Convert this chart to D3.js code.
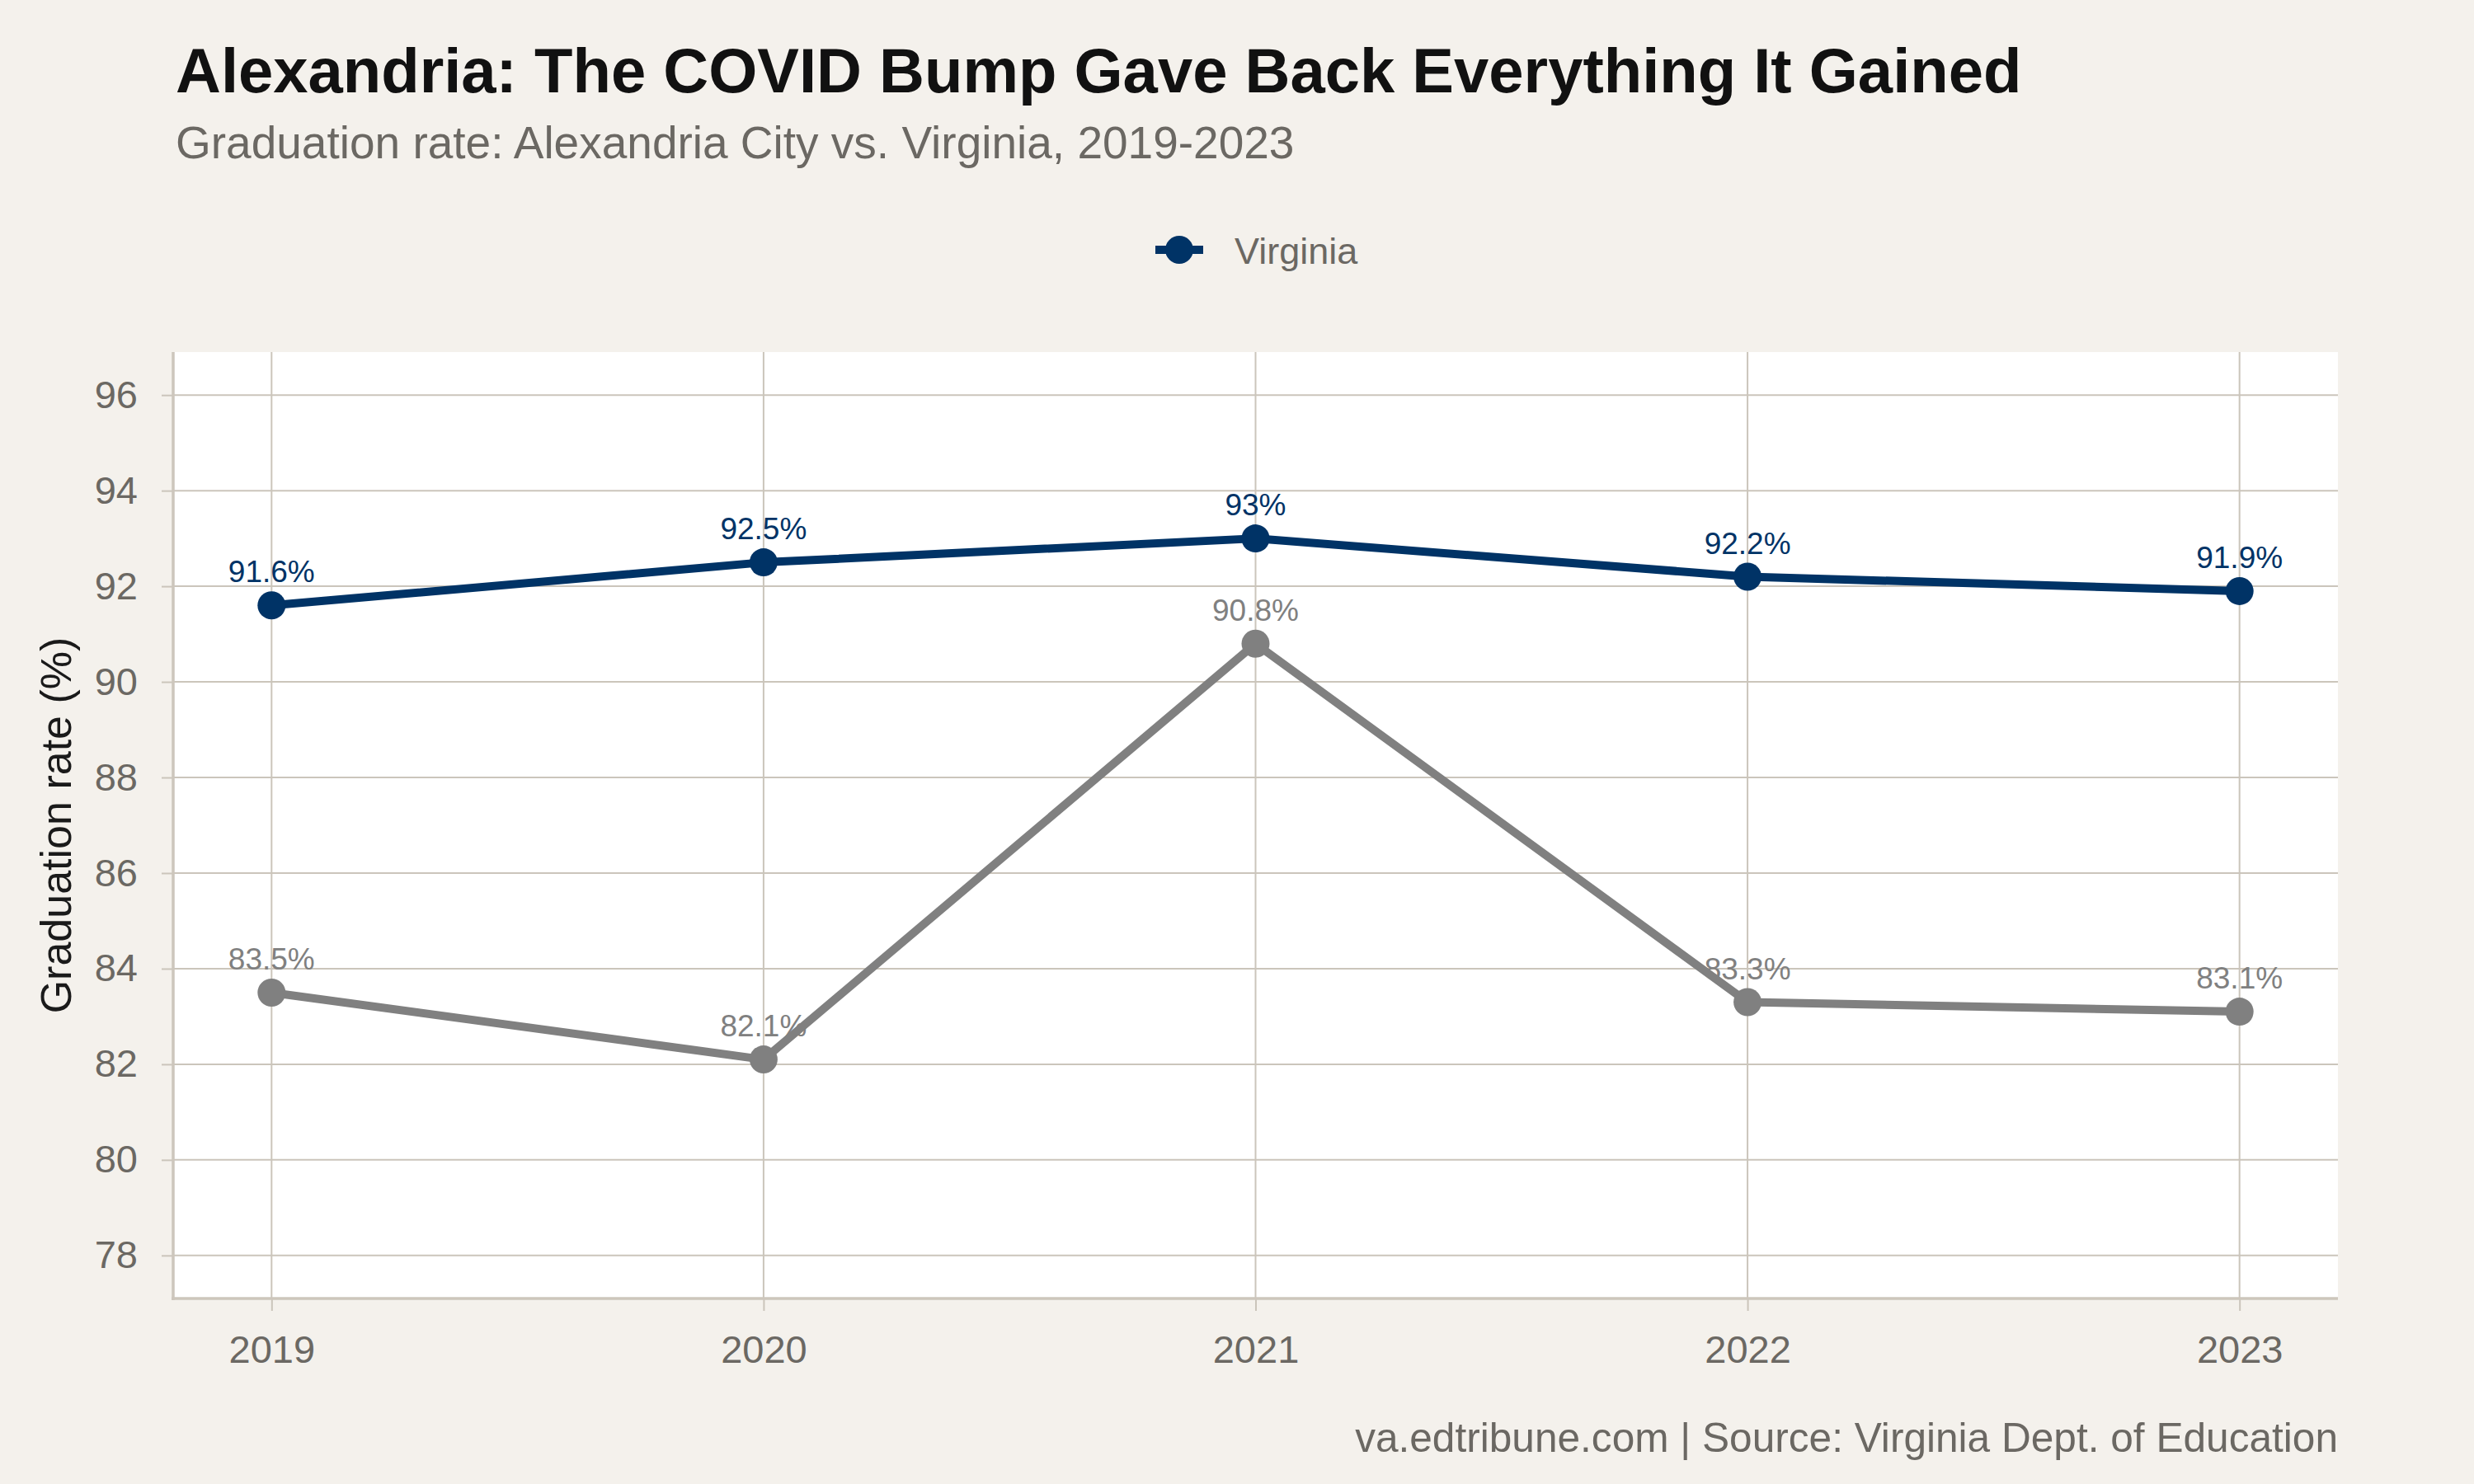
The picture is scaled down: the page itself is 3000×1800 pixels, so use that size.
<!DOCTYPE html>
<html>
<head>
<meta charset="utf-8">
<script src="https://cdn.jsdelivr.net/npm/d3@7"></script>
<style>
  html, body { margin: 0; padding: 0; background: #f4f1ec; }
  svg { display: block; font-family: "Liberation Sans", Arial, Helvetica, sans-serif; }
</style>
</head>
<body>
<div class="chart"></div>
<script>
// data
var years = [2019, 2020, 2021, 2022, 2023];
var virginiaRates = [91.6, 92.5, 93.0, 92.2, 91.9];
var alexandriaRates = [83.5, 82.1, 90.8, 83.3, 83.1];
var yTicks = [78, 80, 82, 84, 86, 88, 90, 92, 94, 96];
var legendLabels = ["Virginia"];

var titleText = "Alexandria: The COVID Bump Gave Back Everything It Gained";
var subtitleText = "Graduation rate: Alexandria City vs. Virginia, 2019-2023";
var captionText = "va.edtribune.com | Source: Virginia Dept. of Education";
var yTitle = "Graduation rate (%)";

var svgWidth = 3000;
var svgHeight = 1800;

var panel = { left: 210, right: 2835, top: 427, bottom: 1575 };

var navy = "#003366";
var grey = "#808080";
var gridColor = "#cbc5bb";
var axisColor = "#cdc6bc";
var textGrey = "#6b6863";

var svg = d3.select(".chart")
  .append("svg")
  .attr("width", svgWidth)
  .attr("height", svgHeight);

svg.append("rect")
  .attr("width", svgWidth)
  .attr("height", svgHeight)
  .attr("fill", "#f4f1ec");

// scales (ggplot-ish 5% expansion on limits)
var xScale = d3.scaleLinear()
  .domain([2018.8, 2023.2])
  .range([panel.left, panel.right]);

var yScale = d3.scaleLinear()
  .domain([77.1, 96.9])
  .range([panel.bottom, panel.top]);

// panel background
svg.append("rect")
  .attr("x", panel.left)
  .attr("y", panel.top)
  .attr("width", panel.right - panel.left)
  .attr("height", panel.bottom - panel.top)
  .attr("fill", "#ffffff");

// gridlines
var grid = svg.append("g");
grid.selectAll(".hgrid")
  .data(yTicks)
  .enter()
  .append("line")
  .attr("x1", panel.left)
  .attr("x2", panel.right)
  .attr("y1", d => yScale(d))
  .attr("y2", d => yScale(d))
  .attr("stroke", gridColor)
  .attr("stroke-width", 2);

grid.selectAll(".vgrid")
  .data(years)
  .enter()
  .append("line")
  .attr("x1", d => xScale(d))
  .attr("x2", d => xScale(d))
  .attr("y1", panel.top)
  .attr("y2", panel.bottom)
  .attr("stroke", gridColor)
  .attr("stroke-width", 2);

// axes
var xAxis = d3.axisBottom(xScale)
  .tickValues(years)
  .tickFormat(d3.format("d"))
  .tickSize(15)
  .tickSizeOuter(0)
  .tickPadding(30);

var yAxis = d3.axisLeft(yScale)
  .tickValues(yTicks)
  .tickSize(14)
  .tickSizeOuter(0)
  .tickPadding(29);

var xAxisG = svg.append("g")
  .attr("transform", `translate(0, ${panel.bottom})`)
  .call(xAxis);

var yAxisG = svg.append("g")
  .attr("transform", `translate(${panel.left}, 0)`)
  .call(yAxis);

[xAxisG, yAxisG].forEach(function(g) {
  g.select(".domain").remove();
  g.selectAll(".tick line")
    .attr("stroke", gridColor)
    .attr("stroke-width", 2);
  g.selectAll(".tick text")
    .attr("fill", textGrey)
    .attr("font-size", 47)
    .attr("font-family", "Liberation Sans, Arial, sans-serif");
});

// axis lines
svg.append("line")
  .attr("x1", panel.left)
  .attr("x2", panel.left)
  .attr("y1", panel.top)
  .attr("y2", panel.bottom + 2)
  .attr("stroke", axisColor)
  .attr("stroke-width", 3.5);

svg.append("line")
  .attr("x1", panel.left - 2)
  .attr("x2", panel.right)
  .attr("y1", panel.bottom)
  .attr("y2", panel.bottom)
  .attr("stroke", axisColor)
  .attr("stroke-width", 3.5);

// series
var series = [
  { name: "Alexandria City", values: alexandriaRates, color: grey },
  { name: "Virginia", values: virginiaRates, color: navy }
];

var line = d3.line()
  .x(d => xScale(d.year))
  .y(d => yScale(d.rate));

// value labels first, lines go over them like in the original
series.forEach(function(s) {
  var pts = years.map((yr, i) => ({ year: yr, rate: s.values[i] }));
  svg.append("g").selectAll("text")
    .data(pts)
    .enter()
    .append("text")
    .attr("x", d => xScale(d.year))
    .attr("y", d => yScale(d.rate) - 28)
    .attr("text-anchor", "middle")
    .attr("font-size", 37)
    .attr("fill", s.color)
    .text(d => d.rate + "%");
});

series.forEach(function(s) {
  var pts = years.map((yr, i) => ({ year: yr, rate: s.values[i] }));
  svg.append("path")
    .datum(pts)
    .attr("d", line)
    .attr("fill", "none")
    .attr("stroke", s.color)
    .attr("stroke-width", 10)
    .attr("stroke-linejoin", "round");

  svg.append("g").selectAll("circle")
    .data(pts)
    .enter()
    .append("circle")
    .attr("cx", d => xScale(d.year))
    .attr("cy", d => yScale(d.rate))
    .attr("r", 17)
    .attr("fill", s.color);
});

// legend (only Virginia shown)
var legend = svg.append("g")
  .attr("transform", "translate(1401, 303)");

legend.append("line")
  .attr("x1", 0)
  .attr("x2", 58)
  .attr("stroke", navy)
  .attr("stroke-width", 10);

legend.append("circle")
  .attr("cx", 29)
  .attr("r", 17)
  .attr("fill", navy);

legend.append("text")
  .attr("x", 96)
  .attr("y", 17)
  .attr("font-size", 45)
  .attr("fill", textGrey)
  .text(legendLabels[0]);

// titles
svg.append("text")
  .attr("x", 213)
  .attr("y", 112)
  .attr("font-size", 76)
  .attr("font-weight", "bold")
  .attr("fill", "#111111")
  .text(titleText);

svg.append("text")
  .attr("x", 213)
  .attr("y", 192)
  .attr("font-size", 55)
  .attr("fill", textGrey)
  .text(subtitleText);

svg.append("text")
  .attr("transform", `translate(86, ${(panel.top + panel.bottom) / 2}) rotate(-90)`)
  .attr("text-anchor", "middle")
  .attr("font-size", 52)
  .attr("fill", "#1a1a1a")
  .text(yTitle);

svg.append("text")
  .attr("x", panel.right)
  .attr("y", 1761)
  .attr("text-anchor", "end")
  .attr("font-size", 49.6)
  .attr("fill", textGrey)
  .text(captionText);
</script>
</body>
</html>
